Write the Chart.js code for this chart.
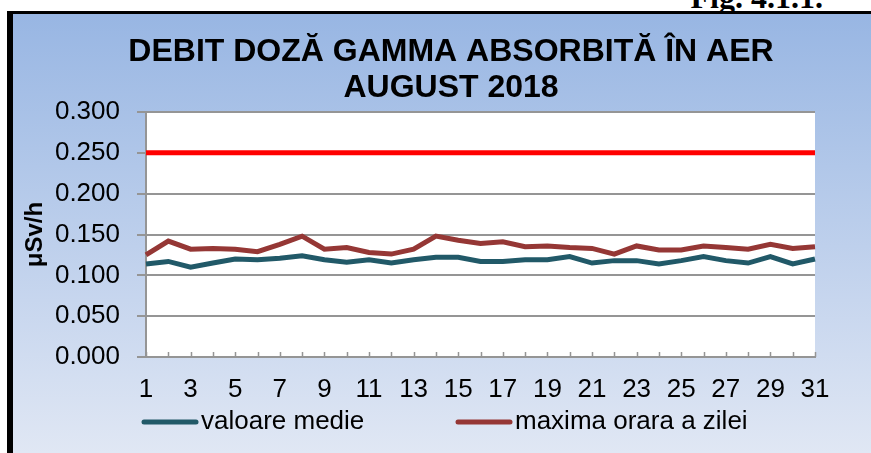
<!DOCTYPE html>
<html>
<head>
<meta charset="utf-8">
<title>Debit doză gamma absorbită în aer - august 2018</title>
<script src="https://cdn.jsdelivr.net/npm/chart.js@4.4.1/dist/chart.umd.min.js"></script>
<style>
    html, body { margin: 0; padding: 0; width: 871px; height: 453px; overflow: hidden; background: #fff; }
    .fig { position: absolute; right: 48px; top: -19px; font: bold 32px "Liberation Serif", serif; line-height: 32px; color: #000; }
    .frame { position: absolute; left: 7px; top: 11px; right: 0; bottom: 0;
             border-left: 6px solid #000; border-top: 3px solid #000;
             background: linear-gradient(to bottom, #98b6e3, #e0e7f4); }
    canvas { position: absolute; left: 0; top: 0; }
</style>
</head>
<body>
<div class="fig">Fig. 4.1.1.</div>
<div class="frame"></div>
<canvas id="doseChart" width="871" height="453"></canvas>

<script>
// Days of the month
const days = ['1', '2', '3', '4', '5', '6', '7', '8', '9', '10', '11', '12', '13', '14', '15', '16',
              '17', '18', '19', '20', '21', '22', '23', '24', '25', '26', '27', '28', '29', '30', '31'];

// Daily mean dose rate (µSv/h)
const meanValues = [0.114, 0.117, 0.110, 0.115, 0.120, 0.119, 0.121, 0.124, 0.119, 0.116, 0.119,
                    0.115, 0.119, 0.122, 0.122, 0.117, 0.117, 0.119, 0.119, 0.123, 0.115, 0.118,
                    0.118, 0.114, 0.118, 0.123, 0.118, 0.115, 0.123, 0.114, 0.120];

// Highest hourly value of each day (µSv/h)
const maxValues = [0.125, 0.142, 0.132, 0.133, 0.132, 0.129, 0.138, 0.148, 0.132, 0.134, 0.128,
                   0.126, 0.132, 0.148, 0.143, 0.139, 0.141, 0.135, 0.136, 0.134, 0.133, 0.126,
                   0.136, 0.131, 0.131, 0.136, 0.134, 0.132, 0.138, 0.133, 0.135];

// Alert threshold drawn as a flat red line
const LIMIT = 0.25;
const limitLine = [{ x: '1', y: LIMIT }, { x: '31', y: LIMIT }];

const titleLines = ['DEBIT DOZĂ GAMMA ABSORBITĂ ÎN AER', 'AUGUST 2018'];
const seriesLabels = ['valoare medie', 'maxima orara a zilei'];
const yTitle = 'μSv/h';

const FONT = '"Liberation Sans", Arial, sans-serif';

// White plot area behind the grid
const plotBackground = {
    id: 'plotBackground',
    beforeDraw(chart) {
        const { ctx, chartArea: a } = chart;
        ctx.save();
        ctx.fillStyle = '#fff';
        ctx.fillRect(a.left, a.top, a.right - a.left, a.bottom - a.top);
        ctx.restore();
    }
};

// Small tick marks pointing up into the plot
const innerTicks = {
    id: 'innerTicks',
    afterDraw(chart) {
        const { ctx, chartArea: a } = chart;
        const x = chart.scales.x;
        ctx.save();
        ctx.strokeStyle = '#959595';
        ctx.lineWidth = 1.5;
        ctx.beginPath();
        x.ticks.forEach((t, i) => {
            const px = Math.round(x.getPixelForTick(i)) + 0.5;
            ctx.moveTo(px, a.bottom);
            ctx.lineTo(px, a.bottom - 5);
        });
        ctx.stroke();
        ctx.restore();
    }
};

// Two-line title centred over the frame
const frameTitle = {
    id: 'frameTitle',
    afterDraw(chart) {
        const ctx = chart.ctx;
        ctx.save();
        ctx.font = 'bold 32px ' + FONT;
        ctx.fillStyle = '#000';
        ctx.textAlign = 'center';
        ctx.textBaseline = 'middle';
        titleLines.forEach((t, i) => ctx.fillText(t, 451, 52 + i * 36));
        ctx.restore();
    }
};

// Legend with long line samples
const lineLegend = {
    id: 'lineLegend',
    afterDraw(chart) {
        const ctx = chart.ctx;
        const starts = [142, 456];
        const y = 422;
        ctx.save();
        ctx.font = '26px ' + FONT;
        ctx.textBaseline = 'middle';
        ctx.lineCap = 'round';
        chart.data.datasets.filter(ds => !ds.noLegend).forEach((ds, i) => {
            ctx.strokeStyle = ds.borderColor;
            ctx.lineWidth = 5;
            ctx.beginPath();
            ctx.moveTo(starts[i] + 2, y);
            ctx.lineTo(starts[i] + 54, y);
            ctx.stroke();
            ctx.fillStyle = '#000';
            ctx.fillText(ds.label, starts[i] + 59, y);
        });
        ctx.restore();
    }
};

new Chart(document.getElementById('doseChart'), {
    type: 'line',
    data: {
        labels: days,
        datasets: [
            {
                label: seriesLabels[0],
                data: meanValues,
                borderColor: '#215968',
                borderWidth: 5,
                pointRadius: 0,
                tension: 0
            },
            {
                label: seriesLabels[1],
                data: maxValues,
                borderColor: '#953735',
                borderWidth: 5,
                pointRadius: 0,
                tension: 0
            },
            {
                label: 'limita',
                data: limitLine,
                borderColor: '#ff0000',
                borderWidth: 5,
                pointRadius: 0,
                noLegend: true
            }
        ]
    },
    options: {
        responsive: false,
        animation: false,
        devicePixelRatio: 1,
        layout: {
            padding: { left: 0, right: 56, top: 112, bottom: 47 }
        },
        plugins: {
            legend: { display: false },
            title: { display: false },
            tooltip: { enabled: false }
        },
        scales: {
            x: {
                offset: false,
                afterFit: scale => { scale.height = 49; },
                grid: { display: false, drawTicks: false },
                border: { color: '#959595', width: 2 },
                ticks: {
                    autoSkip: false,
                    maxRotation: 0,
                    padding: 17,
                    color: '#000',
                    font: { family: FONT, size: 26 },
                    callback: (v, i) => (i % 2 === 0 ? days[i] : '')
                }
            },
            y: {
                min: 0,
                max: 0.3,
                afterFit: scale => { scale.width = 146; },
                grid: { color: '#959595', lineWidth: 2, tickLength: 9 },
                border: { color: '#959595', width: 2 },
                ticks: {
                    stepSize: 0.05,
                    padding: 17,
                    color: '#000',
                    font: { family: FONT, size: 26 },
                    callback: v => v.toFixed(3)
                },
                title: {
                    display: true,
                    text: yTitle,
                    color: '#000',
                    font: { family: FONT, size: 24, weight: 'bold' },
                    padding: { top: 21, bottom: 0 }
                }
            }
        }
    },
    plugins: [plotBackground, innerTicks, frameTitle, lineLegend]
});
</script>
</body>
</html>
